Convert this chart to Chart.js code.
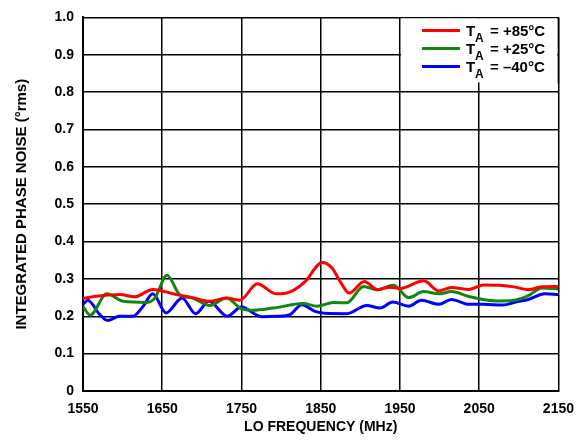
<!DOCTYPE html>
<html>
<head>
<meta charset="utf-8">
<script src="https://cdn.jsdelivr.net/npm/chart.js@4.4.0/dist/chart.umd.min.js"></script>
<style>
  html, body { margin: 0; padding: 0; background: #fff; }
  #wrap { width: 584px; height: 445px; }
</style>
</head>
<body>
<div id="wrap"><canvas id="chart" width="584" height="445"></canvas></div>
<script>
const freqTicks = [1550, 1650, 1750, 1850, 1950, 2050, 2150];
const tempLabels = ['+85°C', '+25°C', '–40°C'];

const freqHot = [1550, 1570, 1597, 1615, 1638, 1668, 1688, 1710, 1731, 1748, 1770, 1794, 1810, 1830, 1852, 1864, 1876, 1886, 1905, 1922, 1937, 1950, 1980, 1999, 2015, 2037, 2056, 2075, 2096, 2112, 2129, 2150];
const noiseHot = [0.248, 0.254, 0.258, 0.252, 0.272, 0.258, 0.250, 0.240, 0.249, 0.243, 0.287, 0.260, 0.264, 0.292, 0.344, 0.330, 0.288, 0.262, 0.293, 0.271, 0.278, 0.274, 0.295, 0.268, 0.277, 0.272, 0.284, 0.283, 0.278, 0.271, 0.279, 0.280];

const freqRoom = [1550, 1559, 1580, 1601, 1631, 1641, 1656, 1672, 1688, 1710, 1731, 1751, 1765, 1790, 1828, 1845, 1866, 1883, 1904, 1921, 1942, 1961, 1980, 1999, 2015, 2037, 2055, 2075, 2092, 2112, 2129, 2150];
const noiseRoom = [0.226, 0.203, 0.260, 0.240, 0.237, 0.250, 0.310, 0.258, 0.249, 0.229, 0.249, 0.219, 0.216, 0.222, 0.234, 0.227, 0.237, 0.236, 0.280, 0.271, 0.283, 0.250, 0.266, 0.260, 0.266, 0.253, 0.245, 0.241, 0.242, 0.255, 0.276, 0.273];

const freqCold = [1550, 1556, 1571, 1581, 1596, 1613, 1626, 1638, 1655, 1675, 1692, 1709, 1732, 1750, 1775, 1795, 1811, 1826, 1842, 1855, 1883, 1908, 1925, 1941, 1961, 1977, 1999, 2015, 2037, 2055, 2080, 2096, 2112, 2133, 2150];
const noiseCold = [0.232, 0.243, 0.205, 0.189, 0.200, 0.200, 0.227, 0.260, 0.209, 0.249, 0.207, 0.240, 0.200, 0.225, 0.199, 0.200, 0.204, 0.231, 0.214, 0.208, 0.207, 0.229, 0.222, 0.238, 0.227, 0.243, 0.232, 0.245, 0.232, 0.232, 0.230, 0.238, 0.245, 0.260, 0.258];

const FONT = "'Liberation Sans', Arial, Helvetica, sans-serif";

function toPoints(xs, ys) {
    return xs.map((x, i) => ({ x: x, y: ys[i] }));
}

function makeSeries(label, xs, ys, color) {
    return {
        label: label,
        data: toPoints(xs, ys),
        borderColor: color,
        borderWidth: 3,
        pointRadius: 0,
        fill: false,
        cubicInterpolationMode: 'monotone',
    };
}

// legend with subscript T_A, drawn in a white box over the top right cell
const legendBox = {
    id: 'legendBox',
    afterDraw(chart) {
        const ctx = chart.ctx;
        const area = chart.chartArea;
        const left = chart.scales.x.getPixelForValue(1950);
        const right = chart.scales.x.getPixelForValue(2150);
        ctx.save();
        ctx.fillStyle = '#fff';
        ctx.fillRect(left + 1, area.top + 1, right - left - 2, 64);
        // keep the plot frame on the right side of the box
        ctx.strokeStyle = '#000';
        ctx.lineWidth = 1.5;
        ctx.beginPath();
        ctx.moveTo(right, area.top);
        ctx.lineTo(right, area.top + 66);
        ctx.stroke();

        chart.data.datasets.forEach((ds, i) => {
            const y = area.top + 13 + i * 18;
            ctx.strokeStyle = ds.borderColor;
            ctx.lineWidth = 3;
            ctx.beginPath();
            ctx.moveTo(left + 22, y);
            ctx.lineTo(left + 60, y);
            ctx.stroke();

            ctx.fillStyle = '#000';
            ctx.textBaseline = 'alphabetic';
            ctx.textAlign = 'left';
            ctx.font = 'bold 15px ' + FONT;
            ctx.fillText('T', left + 66, y + 5.5);
            ctx.font = 'bold 12px ' + FONT;
            ctx.fillText('A', left + 75, y + 12);
            ctx.font = 'bold 15px ' + FONT;
            ctx.fillText('= ' + tempLabels[i], left + 90, y + 5.5);
        });
        ctx.restore();
    }
};

const ctx = document.getElementById('chart').getContext('2d');
new Chart(ctx, {
    type: 'line',
    data: {
        datasets: [
            makeSeries('TA = ' + tempLabels[0], freqHot, noiseHot, '#ff0000'),
            makeSeries('TA = ' + tempLabels[1], freqRoom, noiseRoom, '#108810'),
            makeSeries('TA = ' + tempLabels[2], freqCold, noiseCold, '#0000ff'),
        ]
    },
    options: {
        responsive: false,
        animation: false,
        devicePixelRatio: 1,
        layout: { padding: { top: 12, right: 24, left: 0, bottom: 0 } },
        plugins: {
            legend: { display: false },
            tooltip: { enabled: false },
        },
        scales: {
            x: {
                type: 'linear',
                min: 1550,
                max: 2150,
                afterBuildTicks: (axis) => { axis.ticks = freqTicks.map(v => ({ value: v })); },
                afterFit: (axis) => { axis.height = 54; },
                grid: { color: '#000', lineWidth: 1.5, drawTicks: false },
                border: { color: '#000', width: 2 },
                ticks: {
                    color: '#000',
                    padding: 10,
                    maxRotation: 0,
                    font: { family: FONT, size: 14, weight: 'bold' },
                    callback: (v) => String(v),
                },
                title: {
                    display: true,
                    text: 'LO FREQUENCY (MHz)',
                    color: '#000',
                    padding: { top: 9, bottom: 9 },
                    font: { family: FONT, size: 14, weight: 'bold' },
                },
            },
            y: {
                min: 0,
                max: 1,
                afterFit: (axis) => { axis.width = 83; },
                grid: { color: '#000', lineWidth: 1.5, drawTicks: false },
                border: { color: '#000', width: 2 },
                ticks: {
                    stepSize: 0.1,
                    color: '#000',
                    padding: 9,
                    font: { family: FONT, size: 14, weight: 'bold' },
                    callback: (v) => (Math.abs(v) < 1e-9 ? '0' : v.toFixed(1)),
                },
                title: {
                    display: true,
                    text: 'INTEGRATED PHASE NOISE (°rms)',
                    color: '#000',
                    padding: { top: 13, bottom: 13 },
                    font: { family: FONT, size: 15, weight: 'bold' },
                },
            },
        },
    },
    plugins: [legendBox],
});
</script>
</body>
</html>
